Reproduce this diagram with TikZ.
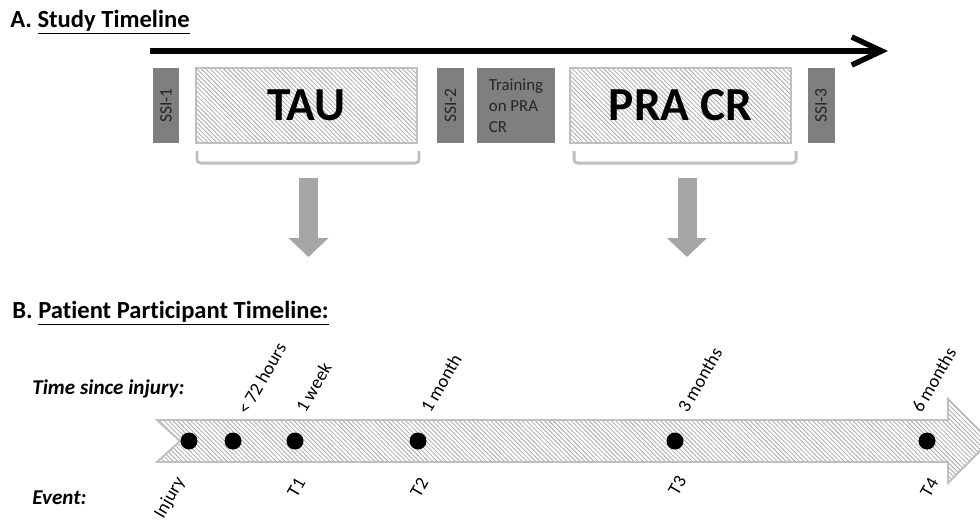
\documentclass[tikz,border=0pt]{standalone}
\usepackage{fontspec}
\setmainfont{Carlito}[Ligatures=NoCommon]
\usetikzlibrary{arrows.meta,patterns.meta}
\definecolor{darkbox}{HTML}{7F7F7F}
\definecolor{boxtext}{HTML}{262626}
\definecolor{lightline}{HTML}{BFBFBF}
\definecolor{downgray}{HTML}{A6A6A6}
\definecolor{hatchgray}{HTML}{A8A8A8}
\tikzset{
  hatched/.style={draw=lightline, line width=0.7pt,
    pattern={Lines[angle=-45,distance=1.8pt,line width=0.45pt]}, pattern color=hatchgray},
  ssibox/.style={fill=darkbox, text=boxtext, rotate=90, inner sep=0pt,
    minimum width=1.5cm, minimum height=0.54cm, font=\fontsize{10}{12}\selectfont},
  trainbox/.style={fill=darkbox, text=boxtext, inner sep=0pt, align=left,
    minimum width=1.56cm, minimum height=1.5cm, font=\fontsize{9.6}{12}\selectfont},
  phasebox/.style={hatched, inner sep=0pt, minimum width=4.42cm, minimum height=1.5cm,
    font=\fontsize{27}{30}\selectfont\bfseries},
  bracket/.style={draw=lightline, line width=1.7pt, rounded corners=2pt},
  bigdown/.style={draw=downgray, line width=0.38cm, -{Triangle[length=0.38cm,width=0.78cm]}},
  dot/.style={circle, fill=black, inner sep=0pt, minimum size=0.34cm},
  toplbl/.style={rotate=60, anchor=west, inner sep=0pt, font=\fontsize{10.5}{12}\selectfont},
  botlbl/.style={rotate=60, anchor=east, inner sep=0pt, font=\fontsize{10.5}{12}\selectfont},
  heading/.style={anchor=base west, inner sep=0pt, font=\fontsize{14}{16}\selectfont\bfseries},
  rowlbl/.style={anchor=base west, inner sep=0pt, font=\fontsize{12}{14}\selectfont\bfseries\itshape}
}

\begin{document}
\begin{tikzpicture}[x=0.02cm, y=-0.02cm]
\clip (0,0) rectangle (980,525);

% A. study timeline
\node[heading] (titleA) at (10,27) {A. \underline{Study Timeline}};
\coordinate (tlstart) at (150,51);
\coordinate (tlend) at (888,51);
\draw[line width=3.1pt, -{Straight Barb[length=17pt,width=16pt]}] (tlstart) -- (tlend);

\node[ssibox] (ssi1) at (166,105.5) {SSI-1};
\node[phasebox] (tau) at (306.5,105.5) {TAU};
\node[ssibox] (ssi2) at (450.5,105.5) {SSI-2};
\node[trainbox] (train) at (516,105.5) {Training\\on PRA\\CR};
\node[phasebox] (pracr) at (680.5,105.5) {PRA CR};
\node[ssibox] (ssi3) at (821,105.5) {SSI-3};

\draw[bracket] (197,151) -- (197,163) -- (419,163) -- (419,151);
\draw[bracket] (574,151) -- (574,163) -- (796,163) -- (796,151);

\coordinate (down1s) at (308.5,178);
\coordinate (down1e) at (308.5,257);
\coordinate (down2s) at (687,178);
\coordinate (down2e) at (687,257);
\draw[bigdown] (down1s) -- (down1e);
\draw[bigdown] (down2s) -- (down2e);

% B. patient timeline
\node[heading] (titleB) at (12,318) {B. \underline{Patient Participant Timeline:}};
\node[rowlbl] (timelbl) at (32,394) {Time since injury:};
\node[rowlbl] (eventlbl) at (32,504) {Event:};

\path[hatched, line width=1.1pt] (157,420) -- (948,420) -- (948,399) -- (990,441)
  -- (948,483) -- (948,462) -- (157,462) -- (180,441) -- cycle;

\foreach \n/\x in {0/189,1/233,2/295,3/418,4/675,5/927} { \node[dot] (d\n) at (\x,441) {}; }

\node[toplbl] (t1) at (242,413) {< 72 hours};
\node[toplbl] (t2) at (300,411) {1 week};
\node[toplbl] (t3) at (425,411) {1 month};
\node[toplbl] (t4) at (682,411) {3 months};
\node[toplbl] (t5) at (916,411) {6 months};

\node[botlbl] (e0) at (181,479) {Injury};
\node[botlbl] (e1) at (301,479) {T1};
\node[botlbl] (e2) at (424,479) {T2};
\node[botlbl] (e3) at (682,477) {T3};
\node[botlbl] (e4) at (934,479) {T4};
\end{tikzpicture}
\end{document}
